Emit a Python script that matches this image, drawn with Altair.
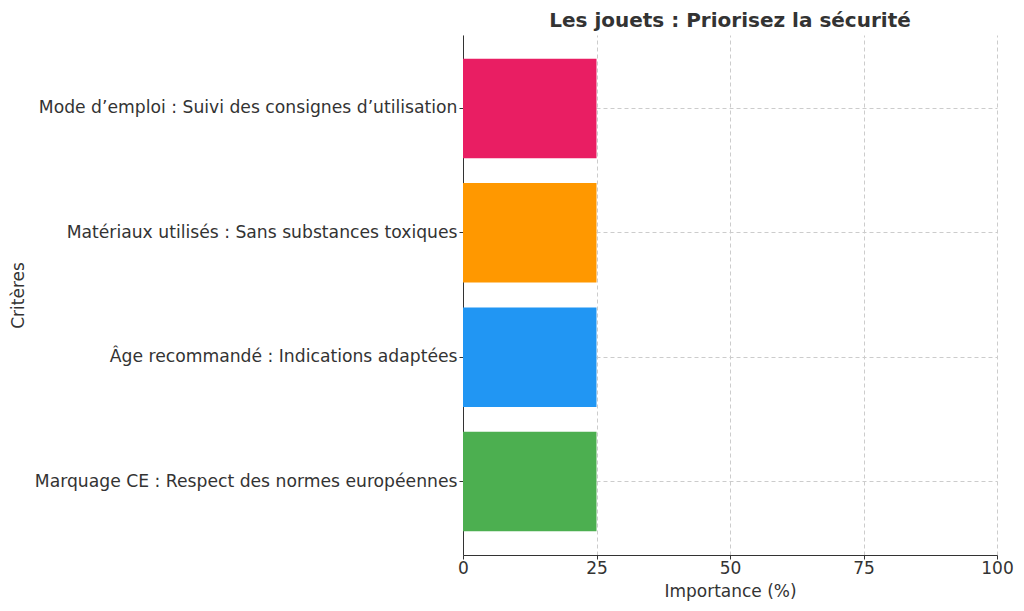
import altair as alt
import pandas as pd

categories = [
    "Mode d’emploi : Suivi des consignes d’utilisation",
    "Matériaux utilisés : Sans substances toxiques",
    "Âge recommandé : Indications adaptées",
    "Marquage CE : Respect des normes européennes",
]
values = [25, 25, 25, 25]
colors = ["#E91E63", "#FF9800", "#2196F3", "#4CAF50"]

df = pd.DataFrame({"Critère": categories, "Importance": values})

font = "DejaVu Sans"

chart = (
    alt.Chart(df)
    .mark_bar()
    .encode(
        y=alt.Y(
            "Critère:N",
            sort=categories,
            title="Critères",
            scale=alt.Scale(paddingInner=0.2, paddingOuter=0.19),
            axis=alt.Axis(
                labelFontSize=17.2,
                labelColor="#333333",
                labelFont=font,
                labelLimit=600,
                titleFontSize=17,
                titleFont=font,
                titleColor="#333333",
                titleFontWeight="normal",
                titleX=-445,
                titleY=260,
                titleAngle=-90,
                titleAlign="center",
                titleBaseline="middle",
                gridDash=[4, 3],
                gridColor="#cccccc",
                grid=True,
                domainColor="#333333",
                tickColor="#333333",
                tickSize=4,
                labelPadding=2,
            ),
        ),
        x=alt.X(
            "Importance:Q",
            title="Importance (%)",
            scale=alt.Scale(domain=[0, 100], nice=False),
            axis=alt.Axis(
                values=[0, 25, 50, 75, 100],
                labelFontSize=17,
                labelColor="#333333",
                labelFont=font,
                labelFlush=False,
                titleFontSize=17,
                titleFont=font,
                titleColor="#333333",
                titleFontWeight="normal",
                titlePadding=7,
                gridDash=[4, 3],
                gridColor="#cccccc",
                domainColor="#333333",
                tickColor="#333333",
                tickSize=4,
                labelPadding=1,
            ),
        ),
        color=alt.Color(
            "Critère:N",
            scale=alt.Scale(domain=categories, range=colors),
            legend=None,
        ),
    )
    .properties(
        width=534,
        height=520,
        title=alt.TitleParams(
            "Les jouets : Priorisez la sécurité",
            fontSize=20,
            font=font,
            fontWeight="bold",
            color="#333333",
            anchor="middle",
            offset=4,
        ),
        autosize=alt.AutoSizeParams(type="none"),
        padding={"left": 455, "top": 27, "right": 18, "bottom": 48},
    )
    .configure_view(stroke=None)
)

chart.save("out.html", embed_options={"renderer": "svg", "actions": False})
